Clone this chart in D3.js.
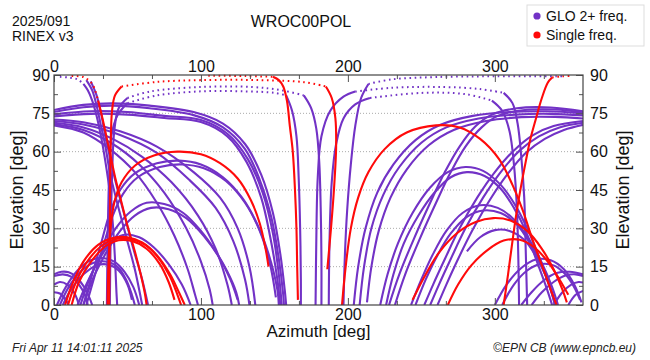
<!DOCTYPE html>
<html>
<head>
<meta charset="utf-8">
<script src="https://cdn.jsdelivr.net/npm/d3@7"></script>
<style>
body { margin: 0; background: #fff; }
svg { display: block; font-family: "Liberation Sans", Arial, sans-serif; }
</style>
</head>
<body>
<svg id="chart" width="650" height="360"></svg>
<script>
// tick labels
const xTickLabels = [0, 100, 200, 300];
const yTickLabels = [0, 15, 30, 45, 60, 75, 90];
const legendLabels = ["GLO 2+ freq.", "Single freq."];

// GLO 2+ freq. tracks, [azimuth, elevation]
const gloSolid = [
  [[0,76.3],[20,78.3],[40,78.9],[65,78],[95,75.5],[115,71],[130,63],[141,51],[149,36],[154,20],[157,6],[158,0]],
  [[0,75.5],[20,77.4],[40,78],[65,77],[95,74.3],[115,69.5],[130,61],[140,49],[148,34],[153,18],[156,4],[156.5,0]],
  [[0,74.6],[25,75.8],[50,75.5],[75,74],[100,72.4],[118,67],[132,57],[142,44],[149,28],[153,12],[155,0]],
  [[0,73.8],[25,74.8],[50,74.5],[75,73.2],[100,71.6],[118,66],[131,56],[141,42],[147,27],[152,10],[154,0]],
  [[0,72.6],[20,71.5],[45,68],[70,62],[95,52],[113,42],[125,30],[133,15],[137,0]],
  [[0,72],[20,70.6],[45,66.5],[70,59.5],[92,49],[110,38],[122,25],[130,10],[133,0]],
  [[0,71.3],[20,69.5],[40,65],[60,58],[80,48],[98,35],[110,22],[118,8],[121,0]],
  [[0,70.8],[20,68.5],[40,63],[58,55],[75,44],[90,30],[100,17],[106,6],[108,0]],
  [[0,70.3],[20,67.5],[38,61],[55,52],[70,40],[82,27],[91,14],[96,4],[98,0]],
  [[20,86.5],[23,84],[26,80],[29,74],[32,66],[35,56],[38,44],[40,32],[41.5,18],[42.5,5],[43,0]],
  [[22,88],[26,84],[29,78],[32,70],[35,62],[38,52],[43,40],[49,27],[55,14],[59,3],[60,0]],
  [[25,87.5],[29,82],[32,75],[35,66],[38,58],[42,48],[48,35],[54,22],[60,10],[64,0]],
  [[20,0],[26,12],[32,24],[38,36],[45,45],[55,51.5],[70,55.5],[85,56.5],[100,55],[115,50],[128,42],[138,32],[146,20],[152,6],[153,0]],
  [[22,0],[28,12],[34,24],[40,35],[47,43.5],[57,50],[72,54],[87,55],[102,53.5],[117,48.5],[130,40],[140,29],[147,16],[151,3]],
  [[18,0],[24,10],[32,20],[42,30],[52,36.5],[63,40],[75,39.5],[88,36],[100,29],[110,21],[118,13],[124,5],[126,0]],
  [[20,0],[27,11],[35,20],[45,29],[55,35],[66,38],[78,37.5],[90,34],[102,27],[112,19],[120,10],[125,2]],
  [[16,0],[22,8],[30,17],[38,24],[47,27.4],[58,26.5],[68,22.5],[78,16],[87,8],[93,0]],
  [[2,0],[8,7],[16,13.5],[25,17.5],[33,18.4],[41,17],[48,13],[54,7],[58,0]],
  [[4,0],[10,7],[18,13],[27,16.5],[35,17],[43,15],[49,10],[53,4],[55,0]],
  [[6,0],[12,6.5],[20,12],[29,15.5],[37,15.8],[44,13.5],[50,8],[53,2]],
  [[0,12],[5,13],[10,12.8],[15,11],[20,7.5],[24,3],[26,0]],
  [[0,11.3],[6,12],[12,11],[17,8],[21,4],[23,0]],
  [[0,8],[4,9],[9,8],[14,4.5],[17,0]],
  [[0,5],[4,4.5],[8,2],[10,0]],
  [[38,0],[38.5,25],[39.5,50],[41,68],[44,77],[50,81]],
  [[170,82],[175,77],[178.5,69],[180.5,56],[181.5,38],[182,18],[182,0]],
  [[36,0],[36.5,25],[37.5,50],[39,66],[43,74],[50,79]],
  [[158,82],[162,76],[165,66],[166.5,50],[167.5,30],[168,10],[168,0]],
  [[178,0],[178.5,25],[179.5,50],[182,66],[188,76],[197,81.5],[205,83.5]],
  [[306,83],[312,79],[315.5,71],[318,58],[320,42],[321,22],[322,0]],
  [[187,0],[187.5,25],[189,48],[192,63],[197,73],[205,78.5],[215,81]],
  [[298,80],[305,76],[310,68],[313,55],[315,38],[316,18],[316.5,0]],
  [[197,0],[198,20],[199.5,37],[202,55],[205,70],[209,81],[214,86.5]],
  [[204,0],[207,15],[212,30],[220,44],[231,55],[246,64.5],[263,70.5],[285,74],[310,75.5],[335,75.8],[360,75]],
  [[208,0],[211,15],[216,30],[224,43],[235,54],[250,63.5],[267,69.5],[289,73],[314,74.5],[338,74.8],[360,74.2]],
  [[213,1],[216,15],[221,29],[229,42],[240,53],[255,62.5],[272,68.5],[294,72],[318,73.5],[341,73.6],[360,73]],
  [[228,0],[235,12],[245,26],[256,40],[266,52],[276,62],[287,70],[298,74.5],[315,77],[338,77.3],[360,75.8]],
  [[232,0],[239,12],[249,26],[260,40],[270,52],[280,62],[291,69.5],[302,74],[319,76.2],[341,76.5],[360,75.4]],
  [[252,0],[258,8],[266,18],[276,30],[288,42],[300,52],[313,60.5],[326,66.5],[340,70],[360,72]],
  [[256,0],[262,8],[270,18],[280,30],[292,42],[304,52],[317,60.5],[330,66],[344,69.5],[360,71.3]],
  [[261,0],[267,8],[275,18],[285,29.5],[297,41.5],[309,51.5],[321,59.5],[334,65],[347,68.5],[360,70.5]],
  [[222,0],[227,12],[234,24],[244,36],[256,46],[268,52],[280,54],[292,52.5],[304,47],[314,39],[322,30],[330,19],[337,8],[341,0]],
  [[226,0],[231,12],[238,24],[248,35],[259,44],[270,50],[281,52],[293,50.5],[304,45.5],[313,38],[321,29],[328,18],[335,7],[339,0]],
  [[243,0],[250,10],[258,20],[267,29],[278,36],[290,39],[302,38],[313,33.5],[323,26],[332,16.5],[339,7],[343,0]],
  [[246,0],[253,10],[261,19.5],[270,28],[281,34.5],[292,37],[304,36],[315,31.5],[324,24],[332,15],[338,6],[341,0]],
  [[281,21],[290,26.5],[300,29.3],[310,29],[320,25.5],[328,19],[335,11],[340,3]],
  [[300,0],[308,8],[318,14.5],[328,17.8],[338,17.5],[347,14],[354,8],[359,1]],
  [[305,0],[313,8],[322,13.5],[331,16],[340,15.5],[348,12],[354,7],[358,2]],
  [[318,0],[325,5],[333,9.5],[342,12.5],[351,13],[360,12]],
  [[325,0],[332,5],[340,9],[348,11.5],[355,12],[360,11.3]],
  [[340,0],[346,5],[352,8],[357,9],[360,8.8]],
  [[350,0],[355,4],[360,5.5]]
];
// high-elevation parts, where the samples spread into dots
const gloDotted = [
  [[4,89.3],[10,89],[16,88.3],[20,86.5]],
  [[50,81],[65,83.5],[100,85.3],[135,85.3],[155,84],[170,82]],
  [[50,79],[70,82],[100,83.6],[130,83.6],[150,83],[158,82]],
  [[205,83.5],[230,85],[265,85.3],[290,84.5],[306,83]],
  [[215,81],[250,83],[280,82.5],[298,80]],
  [[214,86.5],[230,88.3],[260,89.2],[300,89.5],[348,89.5]]
];

// Single freq. tracks
const singleSolid = [
  [[36.5,0],[37,15],[38.5,30],[41,40],[46,48],[55,54.5],[68,58.5],[84,60],[100,59],[113,55.5],[125,49.5],[134,41],[140,32],[144,22],[146,15]],
  [[7.5,0],[13,9],[20,17],[30,23.5],[40,26.2],[50,26.5],[60,24.5],[70,19.5],[79,12],[85,5],[89,0]],
  [[9.5,0],[15,9],[22,16.5],[32,23],[42,25.8],[52,25.8],[62,23.5],[71,18.5],[79,11],[84,4],[86.5,0]],
  [[12,0],[17,9],[24,16],[34,22.5],[44,25.3],[53,25],[63,22],[72,16],[78,9],[82,2]],
  [[37.5,0],[38,30],[38.5,60],[39.5,76],[41.5,82],[46,85.5]],
  [[185,85.5],[189,81],[191.5,73],[192,62],[190.5,45],[188.5,30],[186,14]],
  [[149,89.3],[153,88],[156,85.5],[158.5,80],[160.5,70],[162.5,60],[164,45],[165,30],[165.5,15],[166,2]],
  [[30,80],[33,73],[36,65],[39,57],[42,49],[46,40],[50,31],[55,21],[59,12],[62,4],[63,0]],
  [[196,0],[198.5,15],[202,30],[207,42],[214,52],[225,61],[240,67.5],[260,70.3],[276,69.5],[290,65],[303,57],[312,47],[319,37],[326,25],[333,14],[338,6],[342,0]],
  [[244,2],[252,11],[262,20.5],[274,28],[287,32.5],[299,34],[311,33],[322,29],[332,22],[340,14],[346,6],[349,1]],
  [[268,0],[275,8],[284,15.5],[295,21.5],[306,25.2],[317,25.5],[327,22.5],[336,17],[344,10],[350,4]],
  [[306,0],[309,12],[312,25],[315,37],[318,47],[321,56],[324,64.5],[328,73],[332,81],[336,87],[339,89]]
];
const singleDotted = [
  [[46,85.5],[70,87.3],[100,88],[140,88],[170,87.2],[185,85.5]],
  [[105,89.7],[130,89.6],[149,89.3]],
  [[339,89],[346,89.5],[352,89.6]],
  [[12,89.6],[20,89.2],[26,86.5],[30,80]]
];

const purple = "#7232c6";
const red = "#ff0a0a";

const svg = d3.select("#chart");
const plotLeft = 54, plotRight = 583, plotTop = 75, plotBottom = 305;

const x = d3.scaleLinear().domain([0, 360]).range([plotLeft, plotRight]);
const y = d3.scaleLinear().domain([0, 90]).range([plotBottom, plotTop]);

svg.append("defs").append("clipPath").attr("id", "plotClip")
  .append("rect")
  .attr("x", plotLeft).attr("y", plotTop - 2)
  .attr("width", plotRight - plotLeft).attr("height", plotBottom - plotTop + 2);

// dotted horizontal grid
svg.append("g")
  .selectAll("line")
  .data(yTickLabels.filter(d => d > 0 && d < 90))
  .join("line")
  .attr("x1", plotLeft).attr("x2", plotRight)
  .attr("y1", d => y(d)).attr("y2", d => y(d))
  .attr("stroke", "#aaa")
  .attr("stroke-width", 1)
  .attr("stroke-dasharray", "1,2");

const track = d3.line()
  .x(d => x(d[0]))
  .y(d => y(d[1]))
  .curve(d3.curveCatmullRom.alpha(0.5));

const plot = svg.append("g").attr("clip-path", "url(#plotClip)");

function drawTracks(list, color, dotted) {
  plot.append("g")
    .selectAll("path")
    .data(list)
    .join("path")
    .attr("d", track)
    .attr("fill", "none")
    .attr("stroke", color)
    .attr("stroke-width", dotted ? 2 : 2.1)
    .attr("stroke-dasharray", dotted ? "1.6,3.6" : null)
    .attr("stroke-linecap", "butt");
}

drawTracks(gloDotted, purple, true);
drawTracks(gloSolid, purple, false);
drawTracks(singleDotted, red, true);
drawTracks(singleSolid, red, false);

// axes, ticks pointing inward like gnuplot
const fontSize = 16;
const xMinor = d3.range(0, 361, 100 / 3).filter(v => Math.abs(v % 100) > 1 && Math.abs(v % 100) < 99);
const yMinor = d3.range(7.5, 90, 15);

function styleAxis(g) {
  g.select(".domain").remove();
  g.selectAll(".tick line").attr("stroke", "#555");
  g.selectAll("text")
    .attr("fill", "#111")
    .attr("font-size", fontSize)
    .attr("font-family", "Liberation Sans, Arial, sans-serif");
}

svg.append("g").attr("transform", `translate(0,${plotBottom})`)
  .call(d3.axisBottom(x).tickValues(xTickLabels).tickSize(-7).tickPadding(4))
  .call(styleAxis);
svg.append("g").attr("transform", `translate(0,${plotBottom})`)
  .call(d3.axisBottom(x).tickValues(xMinor).tickSize(-4).tickFormat(""))
  .call(styleAxis);
svg.append("g").attr("transform", `translate(0,${plotTop})`)
  .call(d3.axisTop(x).tickValues(xTickLabels).tickSize(-7).tickPadding(3))
  .call(styleAxis);
svg.append("g").attr("transform", `translate(0,${plotTop})`)
  .call(d3.axisTop(x).tickValues(xMinor).tickSize(-4).tickFormat(""))
  .call(styleAxis);
svg.append("g").attr("transform", `translate(${plotLeft},0)`)
  .call(d3.axisLeft(y).tickValues(yTickLabels).tickSize(-7).tickPadding(4))
  .call(styleAxis);
svg.append("g").attr("transform", `translate(${plotLeft},0)`)
  .call(d3.axisLeft(y).tickValues(yMinor).tickSize(-4).tickFormat(""))
  .call(styleAxis);
svg.append("g").attr("transform", `translate(${plotRight},0)`)
  .call(d3.axisRight(y).tickValues(yTickLabels).tickSize(-7).tickPadding(7))
  .call(styleAxis);
svg.append("g").attr("transform", `translate(${plotRight},0)`)
  .call(d3.axisRight(y).tickValues(yMinor).tickSize(-4).tickFormat(""))
  .call(styleAxis);

// plot border
svg.append("rect")
  .attr("x", plotLeft).attr("y", plotTop)
  .attr("width", plotRight - plotLeft).attr("height", plotBottom - plotTop)
  .attr("fill", "none")
  .attr("stroke", "#444")
  .attr("stroke-width", 1.2);

// axis titles
svg.append("text")
  .attr("x", (plotLeft + plotRight) / 2).attr("y", 337)
  .attr("text-anchor", "middle")
  .attr("font-size", 17)
  .attr("fill", "#111")
  .text("Azimuth [deg]");
svg.append("text")
  .attr("transform", `translate(23,${(plotTop + plotBottom) / 2}) rotate(-90)`)
  .attr("text-anchor", "middle")
  .attr("font-size", 18)
  .attr("fill", "#111")
  .text("Elevation [deg]");
svg.append("text")
  .attr("transform", `translate(629,${(plotTop + plotBottom) / 2}) rotate(-90)`)
  .attr("text-anchor", "middle")
  .attr("font-size", 18)
  .attr("fill", "#111")
  .text("Elevation [deg]");

// header texts
svg.append("text").attr("x", 12).attr("y", 26).attr("font-size", 14).attr("fill", "#111").text("2025/091");
svg.append("text").attr("x", 12).attr("y", 41).attr("font-size", 14).attr("fill", "#111").text("RINEX v3");
svg.append("text").attr("x", 301).attr("y", 27).attr("text-anchor", "middle")
  .attr("font-size", 16).attr("fill", "#111").text("WROC00POL");

// legend
const legend = svg.append("g");
legend.append("rect")
  .attr("x", 527).attr("y", 5).attr("width", 117).attr("height", 41)
  .attr("fill", "#fff").attr("stroke", "#ddd");
legend.selectAll("circle")
  .data(legendLabels)
  .join("circle")
  .attr("cx", 537)
  .attr("cy", (d, i) => 16 + i * 19)
  .attr("r", 3.6)
  .attr("fill", (d, i) => i === 0 ? purple : red);
legend.selectAll("text")
  .data(legendLabels)
  .join("text")
  .attr("x", 546)
  .attr("y", (d, i) => 21 + i * 19)
  .attr("font-size", 14)
  .attr("fill", "#111")
  .text(d => d);

// footer
svg.append("text").attr("x", 12).attr("y", 352).attr("font-size", 12)
  .attr("font-style", "italic").attr("fill", "#222").text("Fri Apr 11 14:01:11 2025");
svg.append("text").attr("x", 636).attr("y", 352).attr("text-anchor", "end").attr("font-size", 12)
  .attr("font-style", "italic").attr("fill", "#222").text("©EPN CB (www.epncb.eu)");
</script>
</body>
</html>
